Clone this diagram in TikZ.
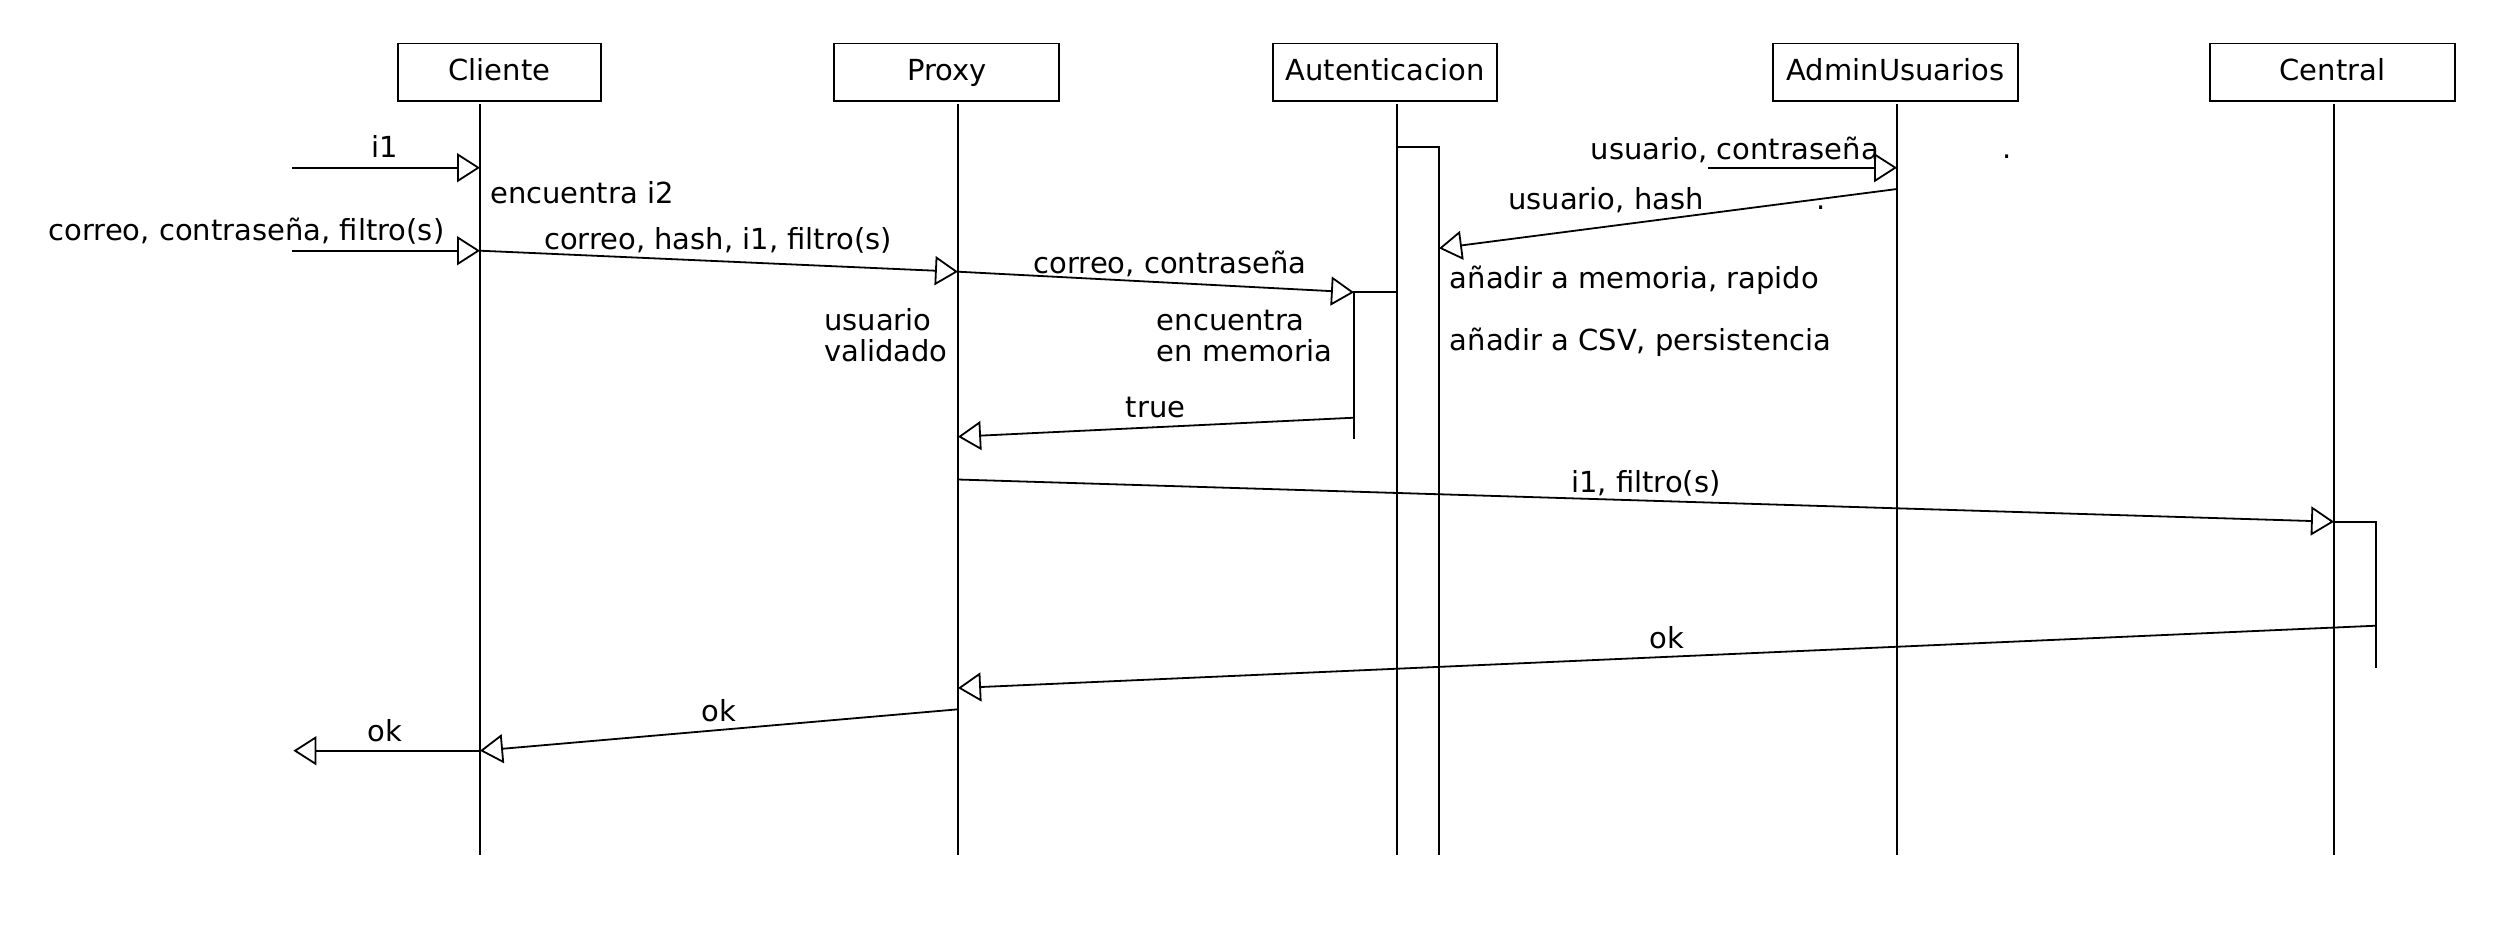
\documentclass[tikz,border=0pt]{standalone}
\usepackage{fontspec}
\setmainfont{DejaVu Sans}
\usetikzlibrary{arrows.meta}
\begin{document}
\begin{tikzpicture}[x=1pt,y=-1pt,
  every node/.style={font=\fontsize{29pt}{31.7pt}\selectfont},
  actor/.style={draw,line width=1.8pt,rectangle,inner sep=0pt,minimum height=57.5pt,text height=21pt,text depth=5.5pt},
  life/.style={line width=1.6pt},
  msg/.style={line width=1.8pt,-{Triangle[open,length=23pt,width=29pt,line width=1.8pt]}},
  bar/.style={line width=1.8pt},
  lbl/.style={inner sep=0pt,anchor=base},
  lbll/.style={inner sep=0pt,anchor=base west,align=left}]
\useasboundingbox (0,0) rectangle (2500,938);
\fill[white] (0,0) rectangle (2500,938);
% actors
\node[actor,minimum width=203pt] (cliente) at (499.5,72.3) {Cliente};
\node[actor,minimum width=225pt] (proxy) at (946.8,72.3) {Proxy};
\node[actor,minimum width=224pt] (auten) at (1385,72.3) {Autenticacion};
\node[actor,minimum width=245pt] (admin) at (1895.5,72.3) {AdminUsuarios};
\node[actor,minimum width=245pt] (central) at (2332.5,72.3) {Central};
% lifelines
\coordinate (cT) at (480,104);   \coordinate (cB) at (480,855);
\coordinate (pT) at (958,104);   \coordinate (pB) at (958,855);
\coordinate (aT) at (1397,104);  \coordinate (aB) at (1397,855);
\coordinate (uT) at (1897,104);  \coordinate (uB) at (1897,855);
\coordinate (zT) at (2334,104);  \coordinate (zB) at (2334,855);
\draw[life] (cT) -- (cB);
\draw[life] (pT) -- (pB);
\draw[life] (aT) -- (aB);
\draw[life] (uT) -- (uB);
\draw[life] (zT) -- (zB);
% activation bars
\coordinate (a1) at (1397,147); \coordinate (a2) at (1439,147); \coordinate (a3) at (1439,855);
\draw[bar] (a1) -- (a2) -- (a3);
\coordinate (m1) at (1397,292.3); \coordinate (m2) at (1354,292.3); \coordinate (m3) at (1354,439);
\draw[bar] (m1) -- (m2) -- (m3);
\coordinate (z1) at (2334,521.7); \coordinate (z2) at (2376,521.7); \coordinate (z3) at (2376,668);
\draw[bar] (z1) -- (z2) -- (z3);
% message endpoints
\coordinate (i1s) at (292,167.7);   \coordinate (i1e) at (480,167.7);
\coordinate (ccs) at (292,250.7);   \coordinate (cce) at (480,250.7);
\coordinate (chp) at (958,271.7);
\coordinate (ucs) at (1708,167.7);  \coordinate (uce) at (1897,167.7);
\coordinate (uhs) at (1897,189);    \coordinate (uhe) at (1439,248.3);
\coordinate (trs) at (1354,417.7);  \coordinate (tre) at (958,436.7);
\coordinate (ifs) at (958,479.5);
\coordinate (oks) at (2376,625.7);  \coordinate (oke) at (958,688);
\coordinate (o2s) at (958,709.3);   \coordinate (o2e) at (480,750.7);
\coordinate (o3e) at (293.4,750.7);
% messages
\draw[msg] (i1s) -- (i1e);
\draw[msg] (ccs) -- (cce);
\draw[msg] (cce) -- (chp);
\draw[msg] (chp) -- (m2);
\draw[msg] (ucs) -- (uce);
\draw[msg] (uhs) -- (uhe);
\draw[msg] (trs) -- (tre);
\draw[msg] (ifs) -- (z1);
\draw[msg] (oks) -- (oke);
\draw[msg] (o2s) -- (o2e);
\draw[msg] (o2e) -- (o3e);
% labels
\node[lbl] (t1) at (385,157.7) {i1};
\node[lbll] (t2) at (490,203) {encuentra i2};
\node[lbl] (t3) at (246.5,240) {correo, contraseña, filtro(s)};
\node[lbl] (t4) at (718,249) {correo, hash, i1, filtro(s)};
\node[lbll] (t5) at (824,361.7) {usuario\\validado};
\node[lbl] (t6) at (1170,273) {correo, contraseña};
\node[lbll] (t7) at (1156.7,361.7) {encuentra\\en memoria};
\node[lbl] (t8) at (1155.6,417) {true};
\node[lbl] (t9) at (1734.8,159) {usuario, contraseña};
\node[lbl] (t10) at (2007,158) {.};
\node[lbl] (t11) at (1606,209) {usuario, hash};
\node[lbl] (t12) at (1821,209) {.};
\node[lbll] (t13) at (1449.7,288) {añadir a memoria, rapido};
\node[lbll] (t14) at (1449.7,350) {añadir a CSV, persistencia};
\node[lbl] (t15) at (1646,492) {i1, filtro(s)};
\node[lbl] (t16) at (1667,648) {ok};
\node[lbl] (t17) at (719,721) {ok};
\node[lbl] (t18) at (385,741.7) {ok};
\end{tikzpicture}
\end{document}
